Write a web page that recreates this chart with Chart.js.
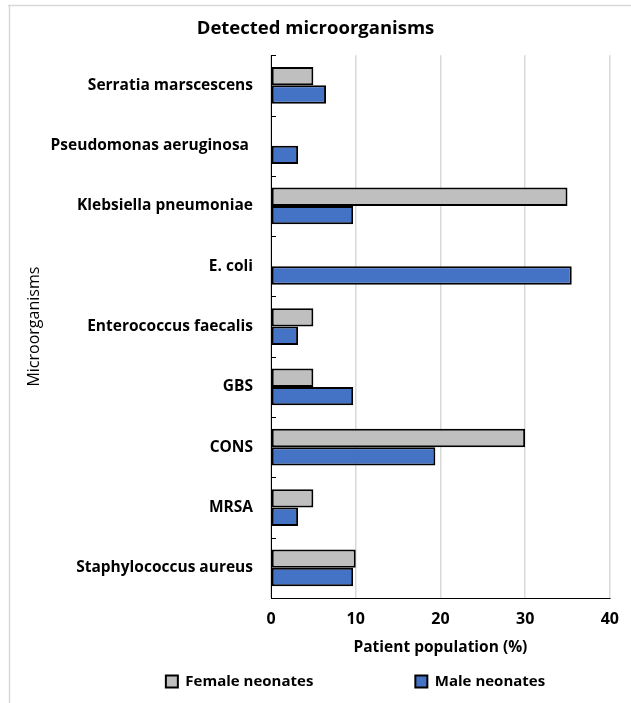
<!DOCTYPE html>
<html>
<head>
<meta charset="utf-8">
<script src="https://cdn.jsdelivr.net/npm/chart.js@4.4.1/dist/chart.umd.min.js"></script>
<style>
  html, body { margin: 0; padding: 0; background: #fff; }
  canvas { display: block; }
</style>
</head>
<body>
<canvas id="c" width="631" height="703"></canvas>
<script>
// ---- data ----
const categories = [
  'Serratia marscescens',
  'Pseudomonas aeruginosa ',
  'Klebsiella pneumoniae',
  'E. coli',
  'Enterococcus faecalis',
  'GBS',
  'CONS',
  'MRSA',
  'Staphylococcus aureus'
];
const femaleValues = [5, 0, 35, 0, 5, 5, 30, 5, 10];
const maleValues = [6.5, 3.2, 9.7, 35.5, 3.2, 9.7, 19.4, 3.2, 9.7];
const xTicks = [0, 10, 20, 30, 40];
const seriesNames = ['Female neonates', 'Male neonates'];

const FONT = '"Open Sans", Lato, sans-serif';
const LEG_PAD = 102;

const frame = {
  id: 'frame',
  beforeDraw(chart) {
    const ctx = chart.ctx;
    ctx.save();
    ctx.fillStyle = '#fff';
    ctx.fillRect(0, 0, chart.width, chart.height);
    ctx.strokeStyle = '#d9d9d9';
    ctx.lineWidth = 1.5;
    ctx.beginPath();
    ctx.moveTo(8, 5.5); ctx.lineTo(chart.width, 5.5);
    ctx.moveTo(9.5, 5); ctx.lineTo(9.5, chart.height);
    ctx.stroke();
    ctx.restore();
  }
};

const catTicks = {
  id: 'catTicks',
  afterDatasetsDraw(chart) {
    const y = chart.scales.y, ctx = chart.ctx;
    const n = categories.length;
    const step = (y.bottom - y.top) / n;
    ctx.save();
    ctx.strokeStyle = '#000';
    ctx.lineWidth = 1;
    ctx.beginPath();
    for (let i = 0; i <= n; i++) {
      const py = Math.round(y.getPixelForValue(i) - step / 2) + 0.5;
      ctx.moveTo(y.right, py); ctx.lineTo(y.right + 5, py);
    }
    ctx.stroke();
    ctx.restore();
  }
};

const legendGap = {
  id: 'legendGap',
  beforeLayout(chart) {
    const lg = chart.legend;
    if (lg && !lg._gapPatched) {
      const orig = lg.fit.bind(lg);
      lg.fit = function () { orig(); this.height = this.height - LEG_PAD + 20; };
      lg._gapPatched = true;
    }
  },
  afterLayout(chart) {
    const lg = chart.legend;
    if (lg) {
      lg.top -= (LEG_PAD - 16);
      lg.left += 40; lg.right += 40;
    }
  }
};

new Chart(document.getElementById('c'), {
  type: 'bar',
  data: {
    labels: categories,
    datasets: [
      {
        label: seriesNames[0],
        data: femaleValues,
        backgroundColor: '#BFBFBF',
        borderColor: '#000',
        borderWidth: 2,
        borderSkipped: false
      },
      {
        label: seriesNames[1],
        data: maleValues,
        backgroundColor: '#4472C4',
        borderColor: '#000',
        borderWidth: 2,
        borderSkipped: false
      }
    ]
  },
  options: {
    indexAxis: 'y',
    responsive: false,
    animation: false,
    devicePixelRatio: 1,
    datasets: { bar: { barPercentage: 1.0, categoryPercentage: 0.61 } },
    layout: { padding: { left: 17, right: 17, top: 0, bottom: 0 } },
    scales: {
      x: {
        min: 0, max: 40,
        afterBuildTicks(scale) { scale.ticks = xTicks.map(v => ({ value: v })); },
        afterFit(scale) { scale.height = 60; },
        grid: { color: '#d9d9d9', lineWidth: 1.5, drawTicks: false },
        border: { display: true, color: '#000', width: 1 },
        ticks: { color: '#000', padding: 12, font: { family: FONT, size: 16, weight: 'bold' } },
        title: {
          display: true, text: 'Patient population (%)', color: '#000',
          font: { family: FONT, size: 15.5, weight: 'bold' }, padding: { top: 4, bottom: 1 }
        }
      },
      y: {
        afterFit(scale) { scale.width = 254; },
        grid: { display: false, drawTicks: false },
        border: { display: true, color: '#000', width: 1 },
        ticks: { color: '#000', padding: 18, font: { family: FONT, size: 15.5, weight: 'bold' } },
        title: {
          display: true, text: 'Microorganisms', color: '#000',
          font: { family: FONT, size: 16 }, padding: { top: 8, bottom: 0 }
        }
      }
    },
    plugins: {
      title: {
        display: true, text: 'Detected microorganisms', color: '#000',
        font: { family: FONT, size: 18.5, weight: 'bold' },
        padding: { top: 18, bottom: 15 }
      },
      legend: {
        position: 'bottom',
        labels: {
          color: '#000', boxWidth: 12, boxHeight: 12, padding: LEG_PAD,
          font: { family: FONT, size: 15, weight: 'bold' },
          generateLabels(chart) {
            return chart.data.datasets.map((ds, i) => ({
              text: ds.label, fillStyle: ds.backgroundColor, strokeStyle: '#000',
              lineWidth: 2, hidden: false, datasetIndex: i, fontColor: '#000'
            }));
          }
        }
      },
      tooltip: { enabled: false }
    }
  },
  plugins: [frame, catTicks, legendGap]
});
</script>
</body>
</html>
